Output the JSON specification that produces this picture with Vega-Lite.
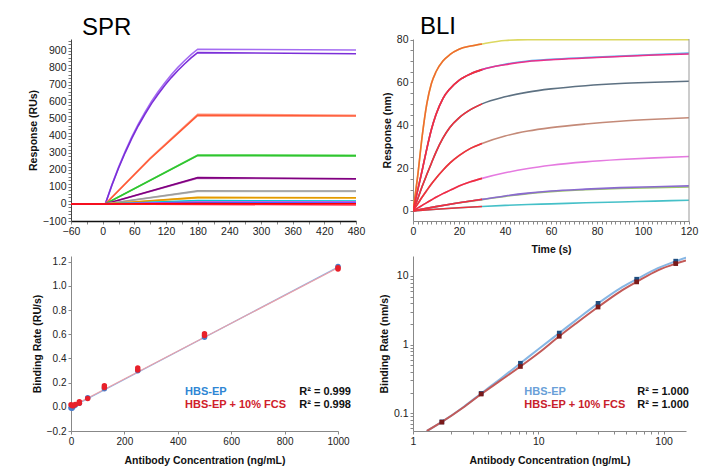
{
  "$schema": "https://vega.github.io/schema/vega-lite/v6.json",
  "background": "white",
  "padding": {"left": 28, "top": 14, "right": 5, "bottom": 5},
  "config": {
    "font": "Liberation Sans",
    "view": {"stroke": null},
    "axis": {"labelFont": "Liberation Sans", "labelFontSize": 10.5, "labelColor": "#222", "titleFont": "Liberation Sans", "titleFontSize": 10.5, "titleFontWeight": "bold", "titleColor": "#111", "grid": false, "tickSize": 3, "domainColor": "#666", "tickColor": "#666", "labelFlush": false, "labelOverlap": false, "labelPadding": 2},
    "title": {"font": "Liberation Sans", "fontSize": 24, "fontWeight": "normal", "anchor": "start", "frame": "group", "color": "#000", "baseline": "alphabetic", "offset": -4}
  },
  "datasets": {
    "one": [{}],
    "spr": [
      {"s": "p1", "t": -60, "v": 0}, {"s": "p1", "t": 0, "v": 0}, {"s": "p1", "t": 5, "v": 0}, {"s": "p1", "t": 17.5, "v": 113}, {"s": "p1", "t": 30, "v": 215}, {"s": "p1", "t": 42.5, "v": 308}, {"s": "p1", "t": 55, "v": 393}, {"s": "p1", "t": 67.5, "v": 470}, {"s": "p1", "t": 80, "v": 539}, {"s": "p1", "t": 92.5, "v": 603}, {"s": "p1", "t": 105, "v": 660}, {"s": "p1", "t": 117.5, "v": 712}, {"s": "p1", "t": 130, "v": 760}, {"s": "p1", "t": 142.5, "v": 803}, {"s": "p1", "t": 155, "v": 842}, {"s": "p1", "t": 167.5, "v": 878}, {"s": "p1", "t": 180, "v": 910}, {"s": "p1", "t": 480, "v": 905},
      {"s": "p2", "t": -60, "v": 0}, {"s": "p2", "t": 0, "v": 0}, {"s": "p2", "t": 5, "v": 0}, {"s": "p2", "t": 17.5, "v": 110}, {"s": "p2", "t": 30, "v": 210}, {"s": "p2", "t": 42.5, "v": 301}, {"s": "p2", "t": 55, "v": 384}, {"s": "p2", "t": 67.5, "v": 460}, {"s": "p2", "t": 80, "v": 527}, {"s": "p2", "t": 92.5, "v": 590}, {"s": "p2", "t": 105, "v": 645}, {"s": "p2", "t": 117.5, "v": 696}, {"s": "p2", "t": 130, "v": 743}, {"s": "p2", "t": 142.5, "v": 785}, {"s": "p2", "t": 155, "v": 823}, {"s": "p2", "t": 167.5, "v": 859}, {"s": "p2", "t": 180, "v": 890}, {"s": "p2", "t": 480, "v": 883},
      {"s": "o1", "t": -60, "v": 0}, {"s": "o1", "t": 0, "v": 0}, {"s": "o1", "t": 5, "v": 0}, {"s": "o1", "t": 90, "v": 270}, {"s": "o1", "t": 180, "v": 527}, {"s": "o1", "t": 480, "v": 522},
      {"s": "o2", "t": -60, "v": 0}, {"s": "o2", "t": 0, "v": 0}, {"s": "o2", "t": 5, "v": 0}, {"s": "o2", "t": 90, "v": 266}, {"s": "o2", "t": 180, "v": 521}, {"s": "o2", "t": 480, "v": 517},
      {"s": "g1", "t": -60, "v": 0}, {"s": "g1", "t": 0, "v": 0}, {"s": "g1", "t": 5, "v": 0}, {"s": "g1", "t": 180, "v": 288}, {"s": "g1", "t": 480, "v": 286},
      {"s": "g2", "t": -60, "v": 0}, {"s": "g2", "t": 0, "v": 0}, {"s": "g2", "t": 5, "v": 0}, {"s": "g2", "t": 180, "v": 285}, {"s": "g2", "t": 480, "v": 283},
      {"s": "m1", "t": -60, "v": 0}, {"s": "m1", "t": 0, "v": 0}, {"s": "m1", "t": 5, "v": 0}, {"s": "m1", "t": 180, "v": 152}, {"s": "m1", "t": 480, "v": 146},
      {"s": "m2", "t": -60, "v": 0}, {"s": "m2", "t": 0, "v": 0}, {"s": "m2", "t": 5, "v": 0}, {"s": "m2", "t": 180, "v": 155}, {"s": "m2", "t": 480, "v": 148},
      {"s": "gr1", "t": -60, "v": 0}, {"s": "gr1", "t": 0, "v": 0}, {"s": "gr1", "t": 5, "v": 0}, {"s": "gr1", "t": 180, "v": 74}, {"s": "gr1", "t": 480, "v": 74},
      {"s": "gr2", "t": -60, "v": 0}, {"s": "gr2", "t": 0, "v": 0}, {"s": "gr2", "t": 5, "v": 0}, {"s": "gr2", "t": 180, "v": 77}, {"s": "gr2", "t": 480, "v": 76},
      {"s": "y1", "t": -60, "v": 0}, {"s": "y1", "t": 0, "v": 0}, {"s": "y1", "t": 5, "v": 0}, {"s": "y1", "t": 180, "v": 36}, {"s": "y1", "t": 480, "v": 35},
      {"s": "y2", "t": -60, "v": 0}, {"s": "y2", "t": 0, "v": 0}, {"s": "y2", "t": 5, "v": 0}, {"s": "y2", "t": 180, "v": 39}, {"s": "y2", "t": 480, "v": 37},
      {"s": "c1", "t": -60, "v": 0}, {"s": "c1", "t": 0, "v": 0}, {"s": "c1", "t": 5, "v": 0}, {"s": "c1", "t": 180, "v": 17}, {"s": "c1", "t": 480, "v": 15},
      {"s": "c2", "t": -60, "v": 0}, {"s": "c2", "t": 0, "v": 0}, {"s": "c2", "t": 5, "v": 0}, {"s": "c2", "t": 180, "v": 20}, {"s": "c2", "t": 480, "v": 18},
      {"s": "mg", "t": -60, "v": 0}, {"s": "mg", "t": 0, "v": 0}, {"s": "mg", "t": 5, "v": 0}, {"s": "mg", "t": 180, "v": 12}, {"s": "mg", "t": 480, "v": 11},
      {"s": "bl", "t": -60, "v": 0}, {"s": "bl", "t": 0, "v": 0}, {"s": "bl", "t": 5, "v": 0}, {"s": "bl", "t": 180, "v": 7}, {"s": "bl", "t": 480, "v": 6},
      {"s": "r2", "t": -60, "v": 0}, {"s": "r2", "t": 0, "v": 0}, {"s": "r2", "t": 5, "v": 0}, {"s": "r2", "t": 180, "v": -2}, {"s": "r2", "t": 480, "v": -6},
      {"s": "r1", "t": -60, "v": 0}, {"s": "r1", "t": 0, "v": 0}, {"s": "r1", "t": 5, "v": 0}, {"s": "r1", "t": 180, "v": 2}, {"s": "r1", "t": 480, "v": 1}
    ],
    "bli": [
      {"s": "b1", "t": 0, "v": 0}, {"s": "b1", "t": 2, "v": 16}, {"s": "b1", "t": 4, "v": 35}, {"s": "b1", "t": 6, "v": 50}, {"s": "b1", "t": 8, "v": 59.5}, {"s": "b1", "t": 10, "v": 65}, {"s": "b1", "t": 13, "v": 70}, {"s": "b1", "t": 16, "v": 73}, {"s": "b1", "t": 20, "v": 75.5}, {"s": "b1", "t": 25, "v": 77}, {"s": "b1", "t": 30, "v": 78}, {"s": "b1", "t": 40, "v": 79.6}, {"s": "b1", "t": 50, "v": 80}, {"s": "b1", "t": 60, "v": 80}, {"s": "b1", "t": 75, "v": 80}, {"s": "b1", "t": 90, "v": 80}, {"s": "b1", "t": 105, "v": 80}, {"s": "b1", "t": 120, "v": 80},
      {"s": "b2", "t": 0, "v": 0}, {"s": "b2", "t": 2, "v": 9.5}, {"s": "b2", "t": 4, "v": 19}, {"s": "b2", "t": 6, "v": 29}, {"s": "b2", "t": 8, "v": 38}, {"s": "b2", "t": 10, "v": 45}, {"s": "b2", "t": 13, "v": 52.5}, {"s": "b2", "t": 16, "v": 57}, {"s": "b2", "t": 20, "v": 61}, {"s": "b2", "t": 25, "v": 64}, {"s": "b2", "t": 30, "v": 66}, {"s": "b2", "t": 40, "v": 68.5}, {"s": "b2", "t": 50, "v": 70}, {"s": "b2", "t": 60, "v": 70.8}, {"s": "b2", "t": 75, "v": 71.6}, {"s": "b2", "t": 90, "v": 72.3}, {"s": "b2", "t": 105, "v": 73}, {"s": "b2", "t": 120, "v": 73.7},
      {"s": "b2f", "t": 0, "v": 0}, {"s": "b2f", "t": 2, "v": 9.5}, {"s": "b2f", "t": 4, "v": 19}, {"s": "b2f", "t": 6, "v": 29}, {"s": "b2f", "t": 8, "v": 38}, {"s": "b2f", "t": 10, "v": 45}, {"s": "b2f", "t": 13, "v": 52.5}, {"s": "b2f", "t": 16, "v": 57}, {"s": "b2f", "t": 20, "v": 61}, {"s": "b2f", "t": 25, "v": 64}, {"s": "b2f", "t": 30, "v": 66}, {"s": "b2f", "t": 40, "v": 68.3}, {"s": "b2f", "t": 50, "v": 69.8}, {"s": "b2f", "t": 60, "v": 70.6}, {"s": "b2f", "t": 75, "v": 71.4}, {"s": "b2f", "t": 90, "v": 72.1}, {"s": "b2f", "t": 105, "v": 72.8}, {"s": "b2f", "t": 120, "v": 73.3},
      {"s": "b3", "t": 0, "v": 0}, {"s": "b3", "t": 2, "v": 5.5}, {"s": "b3", "t": 4, "v": 11.5}, {"s": "b3", "t": 6, "v": 17}, {"s": "b3", "t": 8, "v": 22.3}, {"s": "b3", "t": 10, "v": 27.5}, {"s": "b3", "t": 13, "v": 34}, {"s": "b3", "t": 16, "v": 39}, {"s": "b3", "t": 20, "v": 43.5}, {"s": "b3", "t": 25, "v": 47.3}, {"s": "b3", "t": 30, "v": 50}, {"s": "b3", "t": 40, "v": 53.3}, {"s": "b3", "t": 50, "v": 55.5}, {"s": "b3", "t": 60, "v": 57}, {"s": "b3", "t": 75, "v": 58.5}, {"s": "b3", "t": 90, "v": 59.5}, {"s": "b3", "t": 105, "v": 60.1}, {"s": "b3", "t": 120, "v": 60.6},
      {"s": "b4", "t": 0, "v": 0}, {"s": "b4", "t": 2, "v": 3.2}, {"s": "b4", "t": 4, "v": 6.5}, {"s": "b4", "t": 6, "v": 9.6}, {"s": "b4", "t": 8, "v": 12.6}, {"s": "b4", "t": 10, "v": 15.3}, {"s": "b4", "t": 13, "v": 19}, {"s": "b4", "t": 16, "v": 22.3}, {"s": "b4", "t": 20, "v": 25.8}, {"s": "b4", "t": 25, "v": 29.2}, {"s": "b4", "t": 30, "v": 31.5}, {"s": "b4", "t": 40, "v": 35}, {"s": "b4", "t": 50, "v": 37.3}, {"s": "b4", "t": 60, "v": 38.9}, {"s": "b4", "t": 75, "v": 40.6}, {"s": "b4", "t": 90, "v": 41.9}, {"s": "b4", "t": 105, "v": 42.8}, {"s": "b4", "t": 120, "v": 43.5},
      {"s": "b5", "t": 0, "v": 0}, {"s": "b5", "t": 2, "v": 1.3}, {"s": "b5", "t": 4, "v": 2.6}, {"s": "b5", "t": 6, "v": 3.9}, {"s": "b5", "t": 8, "v": 5.1}, {"s": "b5", "t": 10, "v": 6.4}, {"s": "b5", "t": 13, "v": 8.1}, {"s": "b5", "t": 16, "v": 9.6}, {"s": "b5", "t": 20, "v": 11.6}, {"s": "b5", "t": 25, "v": 13.6}, {"s": "b5", "t": 30, "v": 15.2}, {"s": "b5", "t": 40, "v": 17.8}, {"s": "b5", "t": 50, "v": 19.8}, {"s": "b5", "t": 60, "v": 21.3}, {"s": "b5", "t": 75, "v": 22.9}, {"s": "b5", "t": 90, "v": 24}, {"s": "b5", "t": 105, "v": 24.8}, {"s": "b5", "t": 120, "v": 25.4},
      {"s": "b6g", "t": 0, "v": 0}, {"s": "b6g", "t": 10, "v": 2}, {"s": "b6g", "t": 20, "v": 3.8}, {"s": "b6g", "t": 30, "v": 5.3}, {"s": "b6g", "t": 40, "v": 6.8}, {"s": "b6g", "t": 50, "v": 8.1}, {"s": "b6g", "t": 60, "v": 9}, {"s": "b6g", "t": 75, "v": 9.9}, {"s": "b6g", "t": 90, "v": 10.5}, {"s": "b6g", "t": 105, "v": 10.9}, {"s": "b6g", "t": 120, "v": 11.2},
      {"s": "b6", "t": 0, "v": 0}, {"s": "b6", "t": 10, "v": 2}, {"s": "b6", "t": 20, "v": 3.8}, {"s": "b6", "t": 30, "v": 5.4}, {"s": "b6", "t": 40, "v": 7}, {"s": "b6", "t": 50, "v": 8.3}, {"s": "b6", "t": 60, "v": 9.3}, {"s": "b6", "t": 75, "v": 10.2}, {"s": "b6", "t": 90, "v": 10.9}, {"s": "b6", "t": 105, "v": 11.3}, {"s": "b6", "t": 120, "v": 11.7},
      {"s": "b7", "t": 0, "v": 0}, {"s": "b7", "t": 10, "v": 0.8}, {"s": "b7", "t": 20, "v": 1.5}, {"s": "b7", "t": 30, "v": 2.1}, {"s": "b7", "t": 40, "v": 2.6}, {"s": "b7", "t": 50, "v": 3}, {"s": "b7", "t": 60, "v": 3.3}, {"s": "b7", "t": 75, "v": 3.8}, {"s": "b7", "t": 90, "v": 4.2}, {"s": "b7", "t": 105, "v": 4.6}, {"s": "b7", "t": 120, "v": 5},
      {"s": "f1", "t": 0, "v": 0}, {"s": "f1", "t": 2, "v": 16}, {"s": "f1", "t": 4, "v": 35}, {"s": "f1", "t": 6, "v": 50}, {"s": "f1", "t": 8, "v": 59.5}, {"s": "f1", "t": 10, "v": 65}, {"s": "f1", "t": 13, "v": 70}, {"s": "f1", "t": 16, "v": 73}, {"s": "f1", "t": 20, "v": 75.5}, {"s": "f1", "t": 25, "v": 77}, {"s": "f1", "t": 30, "v": 78},
      {"s": "f2", "t": 0, "v": 0}, {"s": "f2", "t": 2, "v": 9.5}, {"s": "f2", "t": 4, "v": 19}, {"s": "f2", "t": 6, "v": 29}, {"s": "f2", "t": 8, "v": 38}, {"s": "f2", "t": 10, "v": 45}, {"s": "f2", "t": 13, "v": 52.5}, {"s": "f2", "t": 16, "v": 57}, {"s": "f2", "t": 20, "v": 61}, {"s": "f2", "t": 25, "v": 64}, {"s": "f2", "t": 30, "v": 66},
      {"s": "f3", "t": 0, "v": 0}, {"s": "f3", "t": 2, "v": 5.5}, {"s": "f3", "t": 4, "v": 11.5}, {"s": "f3", "t": 6, "v": 17}, {"s": "f3", "t": 8, "v": 22.3}, {"s": "f3", "t": 10, "v": 27.5}, {"s": "f3", "t": 13, "v": 34}, {"s": "f3", "t": 16, "v": 39}, {"s": "f3", "t": 20, "v": 43.5}, {"s": "f3", "t": 25, "v": 47.3}, {"s": "f3", "t": 30, "v": 50},
      {"s": "f4", "t": 0, "v": 0}, {"s": "f4", "t": 2, "v": 3.2}, {"s": "f4", "t": 4, "v": 6.5}, {"s": "f4", "t": 6, "v": 9.6}, {"s": "f4", "t": 8, "v": 12.6}, {"s": "f4", "t": 10, "v": 15.3}, {"s": "f4", "t": 13, "v": 19}, {"s": "f4", "t": 16, "v": 22.3}, {"s": "f4", "t": 20, "v": 25.8}, {"s": "f4", "t": 25, "v": 29.2}, {"s": "f4", "t": 30, "v": 31.5},
      {"s": "f5", "t": 0, "v": 0}, {"s": "f5", "t": 2, "v": 1.3}, {"s": "f5", "t": 4, "v": 2.6}, {"s": "f5", "t": 6, "v": 3.9}, {"s": "f5", "t": 8, "v": 5.1}, {"s": "f5", "t": 10, "v": 6.4}, {"s": "f5", "t": 13, "v": 8.1}, {"s": "f5", "t": 16, "v": 9.6}, {"s": "f5", "t": 20, "v": 11.6}, {"s": "f5", "t": 25, "v": 13.6}, {"s": "f5", "t": 30, "v": 15.2},
      {"s": "f6", "t": 0, "v": 0}, {"s": "f6", "t": 10, "v": 2}, {"s": "f6", "t": 20, "v": 3.8}, {"s": "f6", "t": 30, "v": 5.4},
      {"s": "f7", "t": 0, "v": 0}, {"s": "f7", "t": 10, "v": 0.8}, {"s": "f7", "t": 20, "v": 1.5}, {"s": "f7", "t": 30, "v": 2.1}
    ],
    "blpts": [
      {"b": "HBS-EP", "c": 0, "r": -0.01}, {"b": "HBS-EP", "c": 3.9, "r": -0.012}, {"b": "HBS-EP", "c": 7.8, "r": 0.0}, {"b": "HBS-EP", "c": 15.6, "r": 0.012}, {"b": "HBS-EP", "c": 31.25, "r": 0.03}, {"b": "HBS-EP", "c": 62.5, "r": 0.075}, {"b": "HBS-EP", "c": 125, "r": 0.15}, {"b": "HBS-EP", "c": 250, "r": 0.298}, {"b": "HBS-EP", "c": 500, "r": 0.575}, {"b": "HBS-EP", "c": 1000, "r": 1.16},
      {"b": "HBS-EP + 10% FCS", "c": 0, "r": 0.018}, {"b": "HBS-EP + 10% FCS", "c": 3.9, "r": 0.01}, {"b": "HBS-EP + 10% FCS", "c": 7.8, "r": 0.008}, {"b": "HBS-EP + 10% FCS", "c": 15.6, "r": 0.02}, {"b": "HBS-EP + 10% FCS", "c": 31.25, "r": 0.03}, {"b": "HBS-EP + 10% FCS", "c": 31.25, "r": 0.042}, {"b": "HBS-EP + 10% FCS", "c": 62.5, "r": 0.068}, {"b": "HBS-EP + 10% FCS", "c": 125, "r": 0.16}, {"b": "HBS-EP + 10% FCS", "c": 125, "r": 0.175}, {"b": "HBS-EP + 10% FCS", "c": 250, "r": 0.305}, {"b": "HBS-EP + 10% FCS", "c": 250, "r": 0.322}, {"b": "HBS-EP + 10% FCS", "c": 500, "r": 0.59}, {"b": "HBS-EP + 10% FCS", "c": 500, "r": 0.605}, {"b": "HBS-EP + 10% FCS", "c": 1000, "r": 1.14}, {"b": "HBS-EP + 10% FCS", "c": 1000, "r": 1.15}
    ],
    "blfit": [
      {"b": "HBS-EP", "c": 0, "r": -0.005}, {"b": "HBS-EP", "c": 1000, "r": 1.155},
      {"b": "HBS-EP + 10% FCS", "c": 0, "r": 0.0}, {"b": "HBS-EP + 10% FCS", "c": 1000, "r": 1.15}
    ],
    "brfit": [
      {"b": "HBS-EP", "c": 1.29, "r": 0.055}, {"b": "HBS-EP", "c": 1.7, "r": 0.0747}, {"b": "HBS-EP", "c": 2.5, "r": 0.121}, {"b": "HBS-EP", "c": 3.5, "r": 0.194}, {"b": "HBS-EP", "c": 5, "r": 0.318}, {"b": "HBS-EP", "c": 7.2, "r": 0.534}, {"b": "HBS-EP", "c": 10, "r": 0.853}, {"b": "HBS-EP", "c": 14.7, "r": 1.47}, {"b": "HBS-EP", "c": 20, "r": 2.27}, {"b": "HBS-EP", "c": 30, "r": 3.98}, {"b": "HBS-EP", "c": 45, "r": 6.6}, {"b": "HBS-EP", "c": 61, "r": 8.95}, {"b": "HBS-EP", "c": 90, "r": 12.97}, {"b": "HBS-EP", "c": 125, "r": 16.4}, {"b": "HBS-EP", "c": 151, "r": 18.5},
      {"b": "HBS-EP + 10% FCS", "c": 1.29, "r": 0.055}, {"b": "HBS-EP + 10% FCS", "c": 1.7, "r": 0.0745}, {"b": "HBS-EP + 10% FCS", "c": 2.5, "r": 0.12}, {"b": "HBS-EP + 10% FCS", "c": 3.5, "r": 0.19}, {"b": "HBS-EP + 10% FCS", "c": 5, "r": 0.3}, {"b": "HBS-EP + 10% FCS", "c": 7.2, "r": 0.479}, {"b": "HBS-EP + 10% FCS", "c": 10, "r": 0.746}, {"b": "HBS-EP + 10% FCS", "c": 14.7, "r": 1.32}, {"b": "HBS-EP + 10% FCS", "c": 20, "r": 2.03}, {"b": "HBS-EP + 10% FCS", "c": 30, "r": 3.52}, {"b": "HBS-EP + 10% FCS", "c": 45, "r": 5.91}, {"b": "HBS-EP + 10% FCS", "c": 61, "r": 8.18}, {"b": "HBS-EP + 10% FCS", "c": 90, "r": 12.07}, {"b": "HBS-EP + 10% FCS", "c": 125, "r": 15.1}, {"b": "HBS-EP + 10% FCS", "c": 151, "r": 16.8}
    ],
    "brpts": [
      {"b": "HBS-EP", "c": 1.7, "r": 0.0747}, {"b": "HBS-EP", "c": 3.5, "r": 0.194}, {"b": "HBS-EP", "c": 7.2, "r": 0.534}, {"b": "HBS-EP", "c": 14.7, "r": 1.47}, {"b": "HBS-EP", "c": 30, "r": 3.98}, {"b": "HBS-EP", "c": 61, "r": 8.95}, {"b": "HBS-EP", "c": 125, "r": 16.4},
      {"b": "HBS-EP + 10% FCS", "c": 1.7, "r": 0.074}, {"b": "HBS-EP + 10% FCS", "c": 3.5, "r": 0.19}, {"b": "HBS-EP + 10% FCS", "c": 7.2, "r": 0.479}, {"b": "HBS-EP + 10% FCS", "c": 14.7, "r": 1.32}, {"b": "HBS-EP + 10% FCS", "c": 30, "r": 3.52}, {"b": "HBS-EP + 10% FCS", "c": 61, "r": 8.18}, {"b": "HBS-EP + 10% FCS", "c": 125, "r": 15.1}
    ]
  },
  "bounds": "flush",
  "columns": 2,
  "spacing": {"row": 35, "column": 57},
  "resolve": {"scale": {"color": "independent", "stroke": "independent", "fill": "independent"}},
  "concat": [
    {
      "title": {"text": "SPR", "dx": 11},
      "width": 285,
      "height": 182,
      "data": {"name": "spr"},
      "mark": {"type": "line", "strokeWidth": 1.6, "clip": true},
      "encoding": {
        "x": {"field": "t", "type": "quantitative", "scale": {"domain": [-60, 480], "nice": false, "zero": false},
          "axis": {"title": null, "labelOverlap": false, "values": [-60, -30, 0, 30, 60, 90, 120, 150, 180, 210, 240, 270, 300, 330, 360, 390, 420, 450, 480], "labelExpr": "datum.value % 60 == 0 ? datum.label : ''", "domainColor": "#111", "domainWidth": 1.5, "tickColor": "#888"}},
        "y": {"field": "v", "type": "quantitative", "scale": {"domain": [-100, 970], "nice": false, "zero": false},
          "axis": {"title": "Response (RUs)", "labelOverlap": false, "values": [-100, -80, -60, -40, -20, 0, 20, 40, 60, 80, 100, 120, 140, 160, 180, 200, 220, 240, 260, 280, 300, 320, 340, 360, 380, 400, 420, 440, 460, 480, 500, 520, 540, 560, 580, 600, 620, 640, 660, 680, 700, 720, 740, 760, 780, 800, 820, 840, 860, 880, 900, 920, 940, 960], "labelExpr": "datum.value % 100 == 0 ? datum.label : ''", "domainColor": "#444", "tickColor": "#777"}},
        "color": {"field": "s", "type": "nominal", "legend": null,
          "scale": {"domain": ["p1", "p2", "o1", "o2", "g1", "g2", "m1", "m2", "gr1", "gr2", "y1", "y2", "c1", "c2", "mg", "bl", "r2", "r1"],
            "range": ["#a46cf2", "#7b2fd8", "#ff9a85", "#ff5a36", "#5ad85a", "#2fc42f", "#c47ac4", "#800080", "#c4c4c4", "#9e9e9e", "#f2c24a", "#e39a00", "#3fe0e0", "#00c4d0", "#f040f0", "#4a5cff", "#ff3355", "#ff0000"]}}
      }
    },
    {
      "title": {"text": "BLI", "dx": 7},
      "width": 276,
      "height": 182,
      "layer": [
        {
          "data": {"name": "bli"},
          "mark": {"type": "line", "strokeWidth": 1.6, "clip": true, "interpolate": "monotone"},
          "encoding": {
            "x": {"field": "t", "type": "quantitative", "scale": {"domain": [0, 120], "nice": false},
              "axis": {"title": "Time (s)", "titlePadding": 8, "labelOverlap": false, "values": [0, 2, 4, 6, 8, 10, 12, 14, 16, 18, 20, 22, 24, 26, 28, 30, 32, 34, 36, 38, 40, 42, 44, 46, 48, 50, 52, 54, 56, 58, 60, 62, 64, 66, 68, 70, 72, 74, 76, 78, 80, 82, 84, 86, 88, 90, 92, 94, 96, 98, 100, 102, 104, 106, 108, 110, 112, 114, 116, 118, 120], "labelExpr": "datum.value % 20 == 0 ? datum.label : ''", "domainColor": "#888", "tickColor": "#888"}},
            "y": {"field": "v", "type": "quantitative", "scale": {"domain": [-4.7, 80.3], "nice": false, "zero": false},
              "axis": {"title": "Response (nm)", "labelOverlap": false, "values": [0, 5, 10, 15, 20, 25, 30, 35, 40, 45, 50, 55, 60, 65, 70, 75, 80], "labelExpr": "datum.value % 20 == 0 ? datum.label : ''", "domainColor": "#888", "tickColor": "#888"}},
            "color": {"field": "s", "type": "nominal", "legend": null,
              "scale": {"domain": ["b1", "b2", "b2f", "b3", "b4", "b5", "b6g", "b6", "b7", "f1", "f2", "f3", "f4", "f5", "f6", "f7"],
                "range": ["#dcd860", "#5ab4ee", "#ee2f8a", "#5d7182", "#c48a78", "#e57ae0", "#9cc46a", "#8a6ad0", "#45c0c8", "#f06a30", "#f0303c", "#f0303c", "#f0303c", "#f0303c", "#f0303c", "#f0303c"]}}
          }
        },
        {
          "data": {"name": "one"},
          "mark": {"type": "rule", "color": "#999", "strokeWidth": 1},
          "encoding": {"x": {"datum": 120,
              "axis": {"title": "Time (s)", "titlePadding": 8, "labelOverlap": false, "values": [0, 2, 4, 6, 8, 10, 12, 14, 16, 18, 20, 22, 24, 26, 28, 30, 32, 34, 36, 38, 40, 42, 44, 46, 48, 50, 52, 54, 56, 58, 60, 62, 64, 66, 68, 70, 72, 74, 76, 78, 80, 82, 84, 86, 88, 90, 92, 94, 96, 98, 100, 102, 104, 106, 108, 110, 112, 114, 116, 118, 120], "labelExpr": "datum.value % 20 == 0 ? datum.label : ''", "domainColor": "#888", "tickColor": "#888"}}}
        }
      ]
    },
    {
      "width": 267,
      "height": 175,
      "layer": [
        {
          "data": {"name": "blfit"},
          "mark": {"type": "line", "strokeWidth": 1.2},
          "encoding": {
            "x": {"field": "c", "type": "quantitative", "scale": {"domain": [0, 1000], "nice": false},
              "axis": {"title": "Antibody Concentration (ng/mL)", "titlePadding": 9, "labelOverlap": false, "format": "d", "values": [0, 200, 400, 600, 800, 1000], "domainColor": "#888", "tickColor": "#888", "labelFontSize": 10}},
            "y": {"field": "r", "type": "quantitative", "scale": {"domain": [-0.2, 1.247], "nice": false, "zero": false},
              "axis": {"title": "Binding Rate (RU/s)", "labelOverlap": false, "values": [-0.2, 0, 0.2, 0.4, 0.6, 0.8, 1.0, 1.2], "format": ".1f", "domainColor": "#888", "tickColor": "#888", "labelFontSize": 10}},
            "stroke": {"field": "b", "type": "nominal", "legend": null, "scale": {"domain": ["HBS-EP", "HBS-EP + 10% FCS"], "range": ["#8ab4e8", "#eaa0a8"]}}
          }
        },
        {
          "data": {"name": "blpts"},
          "mark": {"type": "point", "filled": true, "size": 30, "opacity": 1},
          "encoding": {
            "x": {"field": "c", "type": "quantitative", "axis": {"title": "Antibody Concentration (ng/mL)", "titlePadding": 9, "labelOverlap": false, "format": "d", "values": [0, 200, 400, 600, 800, 1000], "domainColor": "#888", "tickColor": "#888", "labelFontSize": 10}},
            "y": {"field": "r", "type": "quantitative", "axis": {"title": "Binding Rate (RU/s)", "labelOverlap": false, "values": [-0.2, 0, 0.2, 0.4, 0.6, 0.8, 1.0, 1.2], "format": ".1f", "domainColor": "#888", "tickColor": "#888", "labelFontSize": 10}},
            "fill": {"field": "b", "type": "nominal", "legend": null, "scale": {"domain": ["HBS-EP", "HBS-EP + 10% FCS"], "range": ["#4a7cc8", "#e8202a"]}}
          }
        },
        {
          "data": {"name": "one"},
          "mark": {"type": "text", "align": "left", "baseline": "middle", "fontWeight": "bold", "fontSize": 11, "color": "#2e86d4"},
          "encoding": {
            "x": {"datum": 427, "axis": {"title": "Antibody Concentration (ng/mL)", "titlePadding": 9, "labelOverlap": false, "format": "d", "values": [0, 200, 400, 600, 800, 1000], "domainColor": "#888", "tickColor": "#888", "labelFontSize": 10}},
            "y": {"datum": 0.121, "axis": {"title": "Binding Rate (RU/s)", "labelOverlap": false, "values": [-0.2, 0, 0.2, 0.4, 0.6, 0.8, 1.0, 1.2], "format": ".1f", "domainColor": "#888", "tickColor": "#888", "labelFontSize": 10}},
            "text": {"value": "HBS-EP"}}
        },
        {
          "data": {"name": "one"},
          "mark": {"type": "text", "align": "left", "baseline": "middle", "fontWeight": "bold", "fontSize": 11, "color": "#d0202a"},
          "encoding": {
            "x": {"datum": 427, "axis": {"title": "Antibody Concentration (ng/mL)", "titlePadding": 9, "labelOverlap": false, "format": "d", "values": [0, 200, 400, 600, 800, 1000], "domainColor": "#888", "tickColor": "#888", "labelFontSize": 10}},
            "y": {"datum": 0.014, "axis": {"title": "Binding Rate (RU/s)", "labelOverlap": false, "values": [-0.2, 0, 0.2, 0.4, 0.6, 0.8, 1.0, 1.2], "format": ".1f", "domainColor": "#888", "tickColor": "#888", "labelFontSize": 10}},
            "text": {"value": "HBS-EP + 10% FCS"}}
        },
        {
          "data": {"name": "one"},
          "mark": {"type": "text", "align": "left", "baseline": "middle", "fontWeight": "bold", "fontSize": 11, "color": "#111"},
          "encoding": {
            "x": {"datum": 855, "axis": {"title": "Antibody Concentration (ng/mL)", "titlePadding": 9, "labelOverlap": false, "format": "d", "values": [0, 200, 400, 600, 800, 1000], "domainColor": "#888", "tickColor": "#888", "labelFontSize": 10}},
            "y": {"datum": 0.121, "axis": {"title": "Binding Rate (RU/s)", "labelOverlap": false, "values": [-0.2, 0, 0.2, 0.4, 0.6, 0.8, 1.0, 1.2], "format": ".1f", "domainColor": "#888", "tickColor": "#888", "labelFontSize": 10}},
            "text": {"value": "R² = 0.999"}}
        },
        {
          "data": {"name": "one"},
          "mark": {"type": "text", "align": "left", "baseline": "middle", "fontWeight": "bold", "fontSize": 11, "color": "#111"},
          "encoding": {
            "x": {"datum": 855, "axis": {"title": "Antibody Concentration (ng/mL)", "titlePadding": 9, "labelOverlap": false, "format": "d", "values": [0, 200, 400, 600, 800, 1000], "domainColor": "#888", "tickColor": "#888", "labelFontSize": 10}},
            "y": {"datum": 0.014, "axis": {"title": "Binding Rate (RU/s)", "labelOverlap": false, "values": [-0.2, 0, 0.2, 0.4, 0.6, 0.8, 1.0, 1.2], "format": ".1f", "domainColor": "#888", "tickColor": "#888", "labelFontSize": 10}},
            "text": {"value": "R² = 0.998"}}
        }
      ]
    },
    {
      "width": 273,
      "height": 175,
      "layer": [
        {
          "data": {"name": "brfit"},
          "mark": {"type": "line", "strokeWidth": 2, "clip": true, "interpolate": "monotone"},
          "encoding": {
            "x": {"field": "c", "type": "quantitative", "scale": {"type": "log", "domain": [1, 151], "nice": false},
              "axis": {"title": "Antibody Concentration (ng/mL)", "titlePadding": 9, "labelOverlap": false, "values": [1, 2, 3, 4, 5, 6, 7, 8, 9, 10, 20, 30, 40, 50, 60, 70, 80, 90, 100], "format": "~g", "labelExpr": "datum.value == 1 || datum.value == 10 || datum.value == 100 ? datum.label : ''", "domainColor": "#888", "tickColor": "#888"}},
            "y": {"field": "r", "type": "quantitative", "scale": {"type": "log", "domain": [0.055, 19.5], "nice": false},
              "axis": {"title": "Binding Rate (nm/s)", "labelOverlap": false, "values": [0.06, 0.07, 0.08, 0.09, 0.1, 0.2, 0.3, 0.4, 0.5, 0.6, 0.7, 0.8, 0.9, 1, 2, 3, 4, 5, 6, 7, 8, 9, 10], "format": "~g", "labelExpr": "datum.value == 0.1 || datum.value == 1 || datum.value == 10 ? datum.label : ''", "domainColor": "#888", "tickColor": "#888"}},
            "stroke": {"field": "b", "type": "nominal", "legend": null, "scale": {"domain": ["HBS-EP", "HBS-EP + 10% FCS"], "range": ["#86b6e4", "#c25a58"]}}
          }
        },
        {
          "data": {"name": "brpts"},
          "mark": {"type": "square", "size": 22, "opacity": 1},
          "encoding": {
            "x": {"field": "c", "type": "quantitative"},
            "y": {"field": "r", "type": "quantitative"},
            "fill": {"field": "b", "type": "nominal", "legend": null, "scale": {"domain": ["HBS-EP", "HBS-EP + 10% FCS"], "range": ["#1f4e80", "#7a1a1a"]}}
          }
        },
        {
          "data": {"name": "one"},
          "mark": {"type": "text", "align": "left", "baseline": "middle", "fontWeight": "bold", "fontSize": 11, "color": "#6a9fd8"},
          "encoding": {"x": {"datum": 7.73}, "y": {"datum": 0.202}, "text": {"value": "HBS-EP"}}
        },
        {
          "data": {"name": "one"},
          "mark": {"type": "text", "align": "left", "baseline": "middle", "fontWeight": "bold", "fontSize": 11, "color": "#c8202a"},
          "encoding": {"x": {"datum": 7.73}, "y": {"datum": 0.1306}, "text": {"value": "HBS-EP + 10% FCS"}}
        },
        {
          "data": {"name": "one"},
          "mark": {"type": "text", "align": "left", "baseline": "middle", "fontWeight": "bold", "fontSize": 11, "color": "#111"},
          "encoding": {"x": {"datum": 61.7}, "y": {"datum": 0.202}, "text": {"value": "R² = 1.000"}}
        },
        {
          "data": {"name": "one"},
          "mark": {"type": "text", "align": "left", "baseline": "middle", "fontWeight": "bold", "fontSize": 11, "color": "#111"},
          "encoding": {"x": {"datum": 61.7}, "y": {"datum": 0.1306}, "text": {"value": "R² = 1.000"}}
        }
      ]
    }
  ]
}
